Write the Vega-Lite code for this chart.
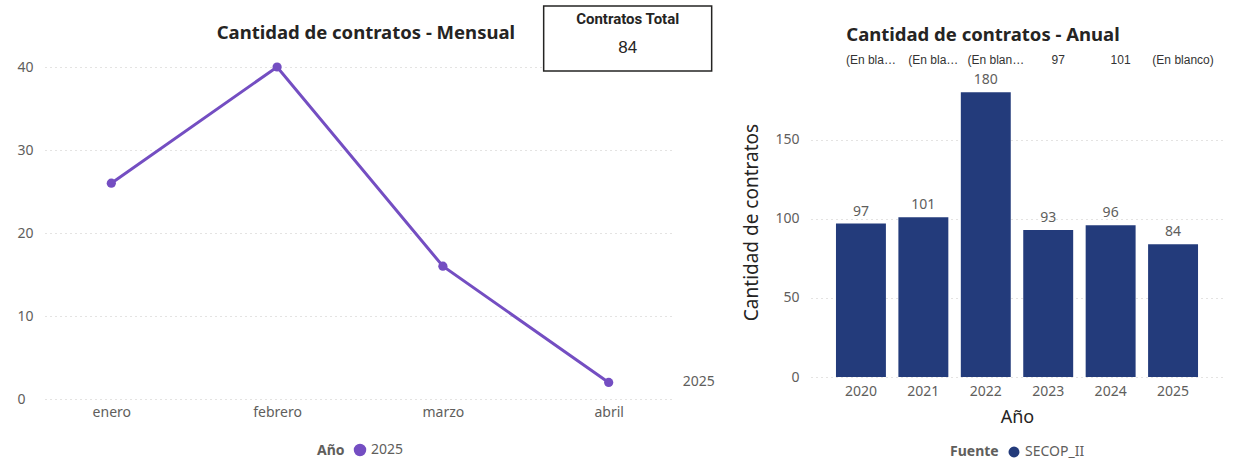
{
  "$schema": "https://vega.github.io/schema/vega-lite/v6.json",
  "padding": {"left": 17, "top": 3, "right": 0, "bottom": 0},
  "background": "white",
  "datasets": {
    "mensual": [
      {"mes": "enero", "anio": "2025", "contratos": 26},
      {"mes": "febrero", "anio": "2025", "contratos": 40},
      {"mes": "marzo", "anio": "2025", "contratos": 16},
      {"mes": "abril", "anio": "2025", "contratos": 2}
    ],
    "anual": [
      {"anio": "2020", "contratos": 97, "fuente": "SECOP_II", "etiqueta": "(En bla…"},
      {"anio": "2021", "contratos": 101, "fuente": "SECOP_II", "etiqueta": "(En bla…"},
      {"anio": "2022", "contratos": 180, "fuente": "SECOP_II", "etiqueta": "(En blan…"},
      {"anio": "2023", "contratos": 93, "fuente": "SECOP_II", "etiqueta": "97"},
      {"anio": "2024", "contratos": 96, "fuente": "SECOP_II", "etiqueta": "101"},
      {"anio": "2025", "contratos": 84, "fuente": "SECOP_II", "etiqueta": "(En blanco)"}
    ]
  },
  "config": {
    "font": "Noto Sans",
    "view": {"stroke": null},
    "axis": {
      "domain": false,
      "ticks": false,
      "labelFont": "Noto Sans",
      "labelColor": "#605E5C",
      "labelFontSize": 14,
      "gridColor": "#C8C6C4",
      "gridDash": [1, 4],
      "titleFont": "Noto Sans",
      "titleColor": "#252423",
      "titleFontWeight": "normal"
    },
    "legend": {
      "orient": "bottom",
      "direction": "horizontal",
      "titleOrient": "left",
      "symbolType": "circle",
      "symbolSize": 120,
      "symbolOpacity": 1,
      "labelFont": "Noto Sans",
      "labelFontSize": 14,
      "labelColor": "#605E5C",
      "titleFont": "Noto Sans",
      "titleFontSize": 14,
      "titleFontWeight": "bold",
      "titleColor": "#605E5C",
      "titlePadding": 8,
      "layout": {"bottom": {"anchor": "middle"}}
    },
    "title": {
      "font": "Noto Sans",
      "fontSize": 18.5,
      "fontWeight": "bold",
      "color": "#252423",
      "anchor": "middle",
      "frame": "bounds"
    }
  },
  "resolve": {"scale": {"color": "independent"}},
  "spacing": 27,
  "hconcat": [
    {
      "width": 630,
      "height": 332,
      "title": {"text": "Cantidad de contratos - Mensual", "offset": -39},
      "data": {"name": "mensual"},
      "encoding": {
        "x": {
          "field": "mes",
          "type": "ordinal",
          "scale": {"type": "point", "padding": 0.4, "domain": ["enero", "febrero", "marzo", "abril"]},
          "axis": {"title": null, "labelAngle": 0, "labelPadding": 6, "grid": false}
        },
        "y": {
          "field": "contratos",
          "type": "quantitative",
          "scale": {"domain": [0, 40]},
          "axis": {"title": null, "values": [0, 10, 20, 30, 40], "labelAlign": "left", "labelPadding": 28, "grid": true}
        }
      },
      "layer": [
        {
          "mark": {"type": "line", "strokeWidth": 3},
          "encoding": {
            "color": {
              "field": "anio",
              "type": "nominal",
              "scale": {"range": ["#744EC2"]},
              "legend": {"title": "Año", "offset": 24}
            }
          }
        },
        {
          "mark": {"type": "point", "filled": true, "size": 85, "opacity": 1},
          "encoding": {"color": {"field": "anio", "type": "nominal"}}
        },
        {
          "transform": [{"filter": "datum.mes === 'abril'"}],
          "mark": {"type": "text", "align": "left", "dx": 74, "fontSize": 14, "color": "#605E5C"},
          "encoding": {"text": {"field": "anio"}}
        },
        {
          "transform": [{"filter": "datum.mes === 'abril'"}],
          "mark": {
            "type": "point",
            "shape": "M-0.774,-0.726L1.226,-0.726L1.226,0.048L-0.774,0.048Z",
            "size": 28224,
            "filled": true,
            "fill": "white",
            "stroke": "#252423",
            "strokeWidth": 1.5,
            "opacity": 1
          },
          "encoding": {"y": {"datum": 40}}
        },
        {
          "transform": [{"filter": "datum.mes === 'abril'"}],
          "mark": {"type": "text", "text": "Contratos Total", "font": "Roboto", "fontSize": 15, "fontWeight": "bold", "color": "#252423", "dx": 19, "dy": -48},
          "encoding": {"y": {"datum": 40}}
        },
        {
          "transform": [
            {"joinaggregate": [{"op": "sum", "field": "contratos", "as": "total"}]},
            {"filter": "datum.mes === 'abril'"}
          ],
          "mark": {"type": "text", "font": "Liberation Sans", "fontSize": 17, "color": "#252423", "dx": 19, "dy": -19},
          "encoding": {"y": {"datum": 40}, "text": {"field": "total", "type": "quantitative"}}
        }
      ]
    },
    {
      "width": 412,
      "height": 310,
      "title": {"text": "Cantidad de contratos - Anual", "offset": 10},
      "data": {"name": "anual"},
      "encoding": {
        "x": {
          "field": "anio",
          "type": "ordinal",
          "scale": {"paddingInner": 0.2, "paddingOuter": 0.4},
          "axis": {"title": "Año", "labelAngle": 0, "labelPadding": 7, "titleFontSize": 18, "titlePadding": 10}
        }
      },
      "layer": [
        {
          "mark": {"type": "bar"},
          "encoding": {
            "y": {
              "field": "contratos",
              "type": "quantitative",
              "scale": {"domain": [0, 196], "nice": false},
              "axis": {"title": "Cantidad de contratos", "values": [0, 50, 100, 150], "labelPadding": 12, "titleFontSize": 19, "titlePadding": 13, "grid": true}
            },
            "color": {
              "field": "fuente",
              "type": "nominal",
              "scale": {"range": ["#233B7B"]},
              "legend": {"title": "Fuente", "offset": 19}
            }
          }
        },
        {
          "mark": {"type": "text", "baseline": "bottom", "dy": -5, "fontSize": 14, "color": "#605E5C"},
          "encoding": {
            "y": {"field": "contratos", "type": "quantitative"},
            "text": {"field": "contratos", "type": "quantitative"}
          }
        },
        {
          "mark": {"type": "text", "dx": 10, "dy": -7, "fontSize": 12, "font": "Liberation Sans", "color": "#333333"},
          "encoding": {
            "y": {"datum": 196},
            "text": {"field": "etiqueta", "type": "nominal"}
          }
        }
      ]
    }
  ]
}
